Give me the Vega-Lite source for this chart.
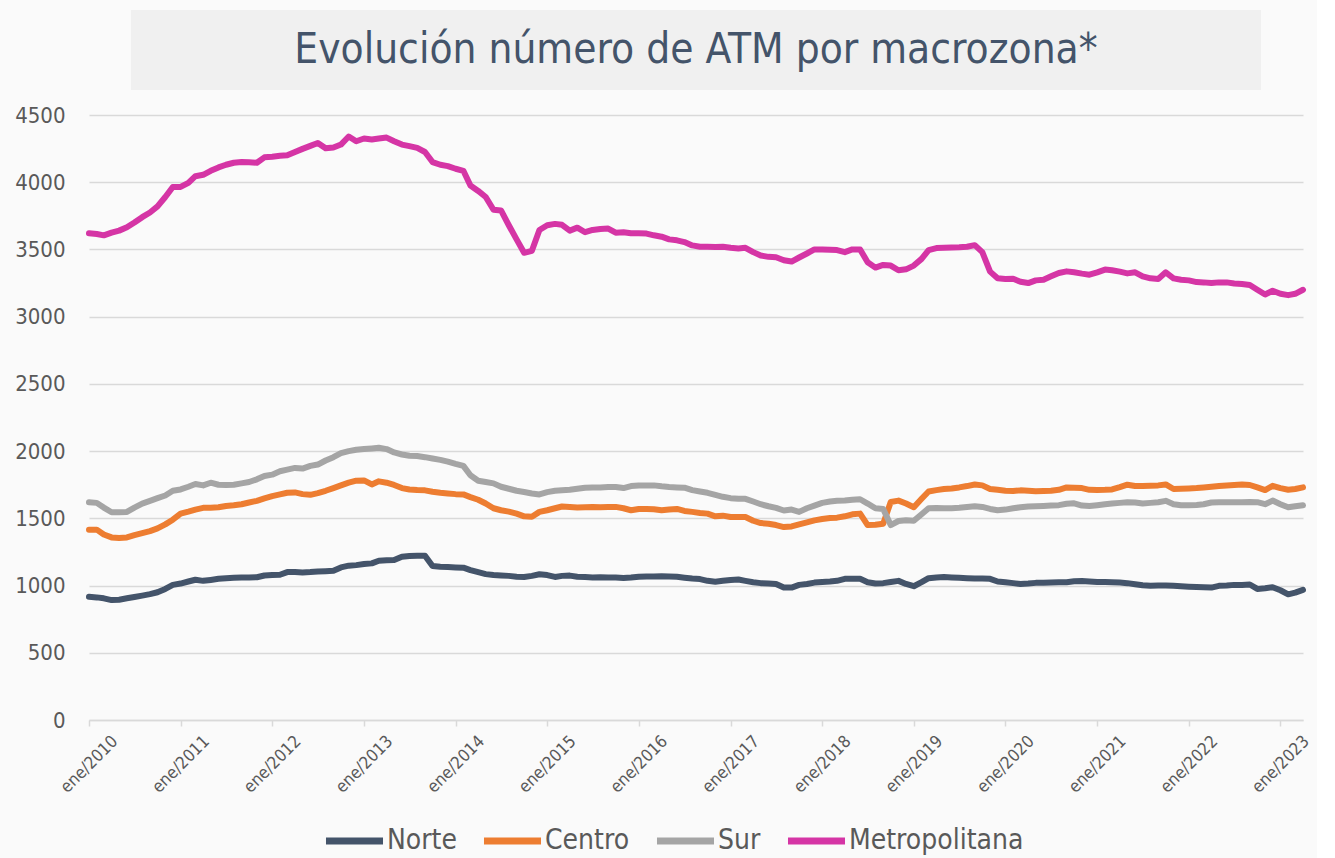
{
  "$schema": "https://vega.github.io/schema/vega-lite/v6.json",
  "background": "#fafafa",
  "padding": {"left": 14, "top": 10, "right": 5, "bottom": 0},
  "config": {
    "font": "DejaVu Sans Condensed, DejaVu Sans, sans-serif",
    "view": {"stroke": null}
  },
  "datasets": {
    "atm": [
      {"mes":"2010-01-01","Norte":916,"Centro":1416,"Sur":1620,"Metropolitana":3620},
      {"mes":"2010-02-01","Norte":912,"Centro":1416,"Sur":1615,"Metropolitana":3615},
      {"mes":"2010-03-01","Norte":905,"Centro":1380,"Sur":1580,"Metropolitana":3605},
      {"mes":"2010-04-01","Norte":892,"Centro":1358,"Sur":1545,"Metropolitana":3625},
      {"mes":"2010-05-01","Norte":895,"Centro":1354,"Sur":1545,"Metropolitana":3640},
      {"mes":"2010-06-01","Norte":905,"Centro":1358,"Sur":1548,"Metropolitana":3665},
      {"mes":"2010-07-01","Norte":915,"Centro":1375,"Sur":1580,"Metropolitana":3700},
      {"mes":"2010-08-01","Norte":925,"Centro":1390,"Sur":1610,"Metropolitana":3740},
      {"mes":"2010-09-01","Norte":936,"Centro":1405,"Sur":1630,"Metropolitana":3775},
      {"mes":"2010-10-01","Norte":950,"Centro":1425,"Sur":1650,"Metropolitana":3820},
      {"mes":"2010-11-01","Norte":975,"Centro":1455,"Sur":1670,"Metropolitana":3890},
      {"mes":"2010-12-01","Norte":1005,"Centro":1490,"Sur":1705,"Metropolitana":3965},
      {"mes":"2011-01-01","Norte":1015,"Centro":1535,"Sur":1715,"Metropolitana":3965},
      {"mes":"2011-02-01","Norte":1030,"Centro":1550,"Sur":1735,"Metropolitana":3995},
      {"mes":"2011-03-01","Norte":1043,"Centro":1565,"Sur":1755,"Metropolitana":4045},
      {"mes":"2011-04-01","Norte":1035,"Centro":1578,"Sur":1745,"Metropolitana":4055},
      {"mes":"2011-05-01","Norte":1042,"Centro":1579,"Sur":1765,"Metropolitana":4085},
      {"mes":"2011-06-01","Norte":1050,"Centro":1582,"Sur":1750,"Metropolitana":4110},
      {"mes":"2011-07-01","Norte":1055,"Centro":1592,"Sur":1748,"Metropolitana":4130},
      {"mes":"2011-08-01","Norte":1058,"Centro":1597,"Sur":1750,"Metropolitana":4145},
      {"mes":"2011-09-01","Norte":1060,"Centro":1605,"Sur":1760,"Metropolitana":4150},
      {"mes":"2011-10-01","Norte":1060,"Centro":1618,"Sur":1770,"Metropolitana":4148},
      {"mes":"2011-11-01","Norte":1062,"Centro":1630,"Sur":1790,"Metropolitana":4145},
      {"mes":"2011-12-01","Norte":1075,"Centro":1648,"Sur":1815,"Metropolitana":4185},
      {"mes":"2012-01-01","Norte":1078,"Centro":1665,"Sur":1825,"Metropolitana":4190},
      {"mes":"2012-02-01","Norte":1080,"Centro":1678,"Sur":1850,"Metropolitana":4197},
      {"mes":"2012-03-01","Norte":1100,"Centro":1690,"Sur":1862,"Metropolitana":4200},
      {"mes":"2012-04-01","Norte":1100,"Centro":1693,"Sur":1875,"Metropolitana":4225},
      {"mes":"2012-05-01","Norte":1097,"Centro":1680,"Sur":1870,"Metropolitana":4248},
      {"mes":"2012-06-01","Norte":1100,"Centro":1675,"Sur":1890,"Metropolitana":4270},
      {"mes":"2012-07-01","Norte":1105,"Centro":1688,"Sur":1900,"Metropolitana":4292},
      {"mes":"2012-08-01","Norte":1107,"Centro":1705,"Sur":1930,"Metropolitana":4252},
      {"mes":"2012-09-01","Norte":1110,"Centro":1725,"Sur":1955,"Metropolitana":4258},
      {"mes":"2012-10-01","Norte":1135,"Centro":1745,"Sur":1985,"Metropolitana":4280},
      {"mes":"2012-11-01","Norte":1148,"Centro":1765,"Sur":2000,"Metropolitana":4340},
      {"mes":"2012-12-01","Norte":1152,"Centro":1780,"Sur":2010,"Metropolitana":4305},
      {"mes":"2013-01-01","Norte":1160,"Centro":1782,"Sur":2015,"Metropolitana":4325},
      {"mes":"2013-02-01","Norte":1165,"Centro":1752,"Sur":2020,"Metropolitana":4318},
      {"mes":"2013-03-01","Norte":1185,"Centro":1775,"Sur":2025,"Metropolitana":4325},
      {"mes":"2013-04-01","Norte":1188,"Centro":1765,"Sur":2015,"Metropolitana":4332},
      {"mes":"2013-05-01","Norte":1190,"Centro":1748,"Sur":1990,"Metropolitana":4305},
      {"mes":"2013-06-01","Norte":1215,"Centro":1725,"Sur":1975,"Metropolitana":4280},
      {"mes":"2013-07-01","Norte":1220,"Centro":1715,"Sur":1965,"Metropolitana":4268},
      {"mes":"2013-08-01","Norte":1222,"Centro":1710,"Sur":1963,"Metropolitana":4255},
      {"mes":"2013-09-01","Norte":1222,"Centro":1708,"Sur":1955,"Metropolitana":4225},
      {"mes":"2013-10-01","Norte":1145,"Centro":1698,"Sur":1945,"Metropolitana":4150},
      {"mes":"2013-11-01","Norte":1140,"Centro":1690,"Sur":1935,"Metropolitana":4130},
      {"mes":"2013-12-01","Norte":1138,"Centro":1685,"Sur":1922,"Metropolitana":4120},
      {"mes":"2014-01-01","Norte":1135,"Centro":1680,"Sur":1905,"Metropolitana":4100},
      {"mes":"2014-02-01","Norte":1133,"Centro":1678,"Sur":1890,"Metropolitana":4085},
      {"mes":"2014-03-01","Norte":1115,"Centro":1658,"Sur":1820,"Metropolitana":3975},
      {"mes":"2014-04-01","Norte":1100,"Centro":1638,"Sur":1780,"Metropolitana":3935},
      {"mes":"2014-05-01","Norte":1085,"Centro":1610,"Sur":1770,"Metropolitana":3890},
      {"mes":"2014-06-01","Norte":1078,"Centro":1575,"Sur":1760,"Metropolitana":3795},
      {"mes":"2014-07-01","Norte":1075,"Centro":1560,"Sur":1735,"Metropolitana":3790},
      {"mes":"2014-08-01","Norte":1072,"Centro":1550,"Sur":1720,"Metropolitana":3680},
      {"mes":"2014-09-01","Norte":1066,"Centro":1535,"Sur":1705,"Metropolitana":3575},
      {"mes":"2014-10-01","Norte":1064,"Centro":1515,"Sur":1696,"Metropolitana":3475},
      {"mes":"2014-11-01","Norte":1072,"Centro":1512,"Sur":1685,"Metropolitana":3490},
      {"mes":"2014-12-01","Norte":1084,"Centro":1548,"Sur":1678,"Metropolitana":3645},
      {"mes":"2015-01-01","Norte":1078,"Centro":1560,"Sur":1695,"Metropolitana":3680},
      {"mes":"2015-02-01","Norte":1064,"Centro":1575,"Sur":1705,"Metropolitana":3690},
      {"mes":"2015-03-01","Norte":1072,"Centro":1588,"Sur":1708,"Metropolitana":3683},
      {"mes":"2015-04-01","Norte":1074,"Centro":1585,"Sur":1712,"Metropolitana":3640},
      {"mes":"2015-05-01","Norte":1066,"Centro":1580,"Sur":1720,"Metropolitana":3662},
      {"mes":"2015-06-01","Norte":1063,"Centro":1583,"Sur":1728,"Metropolitana":3628},
      {"mes":"2015-07-01","Norte":1060,"Centro":1585,"Sur":1730,"Metropolitana":3645},
      {"mes":"2015-08-01","Norte":1062,"Centro":1582,"Sur":1730,"Metropolitana":3652},
      {"mes":"2015-09-01","Norte":1060,"Centro":1585,"Sur":1733,"Metropolitana":3655},
      {"mes":"2015-10-01","Norte":1060,"Centro":1585,"Sur":1733,"Metropolitana":3625},
      {"mes":"2015-11-01","Norte":1057,"Centro":1575,"Sur":1725,"Metropolitana":3628},
      {"mes":"2015-12-01","Norte":1060,"Centro":1560,"Sur":1740,"Metropolitana":3620},
      {"mes":"2016-01-01","Norte":1066,"Centro":1570,"Sur":1745,"Metropolitana":3620},
      {"mes":"2016-02-01","Norte":1068,"Centro":1570,"Sur":1745,"Metropolitana":3618},
      {"mes":"2016-03-01","Norte":1068,"Centro":1568,"Sur":1745,"Metropolitana":3605},
      {"mes":"2016-04-01","Norte":1070,"Centro":1560,"Sur":1738,"Metropolitana":3595},
      {"mes":"2016-05-01","Norte":1068,"Centro":1565,"Sur":1733,"Metropolitana":3575},
      {"mes":"2016-06-01","Norte":1065,"Centro":1570,"Sur":1730,"Metropolitana":3568},
      {"mes":"2016-07-01","Norte":1058,"Centro":1555,"Sur":1728,"Metropolitana":3555},
      {"mes":"2016-08-01","Norte":1052,"Centro":1548,"Sur":1710,"Metropolitana":3530},
      {"mes":"2016-09-01","Norte":1048,"Centro":1540,"Sur":1700,"Metropolitana":3520},
      {"mes":"2016-10-01","Norte":1035,"Centro":1535,"Sur":1690,"Metropolitana":3520},
      {"mes":"2016-11-01","Norte":1028,"Centro":1515,"Sur":1675,"Metropolitana":3518},
      {"mes":"2016-12-01","Norte":1035,"Centro":1520,"Sur":1660,"Metropolitana":3520},
      {"mes":"2017-01-01","Norte":1042,"Centro":1510,"Sur":1650,"Metropolitana":3512},
      {"mes":"2017-02-01","Norte":1045,"Centro":1510,"Sur":1645,"Metropolitana":3507},
      {"mes":"2017-03-01","Norte":1035,"Centro":1510,"Sur":1645,"Metropolitana":3512},
      {"mes":"2017-04-01","Norte":1025,"Centro":1482,"Sur":1625,"Metropolitana":3480},
      {"mes":"2017-05-01","Norte":1018,"Centro":1465,"Sur":1605,"Metropolitana":3455},
      {"mes":"2017-06-01","Norte":1015,"Centro":1460,"Sur":1590,"Metropolitana":3445},
      {"mes":"2017-07-01","Norte":1012,"Centro":1450,"Sur":1578,"Metropolitana":3442},
      {"mes":"2017-08-01","Norte":985,"Centro":1435,"Sur":1558,"Metropolitana":3420},
      {"mes":"2017-09-01","Norte":985,"Centro":1440,"Sur":1565,"Metropolitana":3410},
      {"mes":"2017-10-01","Norte":1005,"Centro":1455,"Sur":1548,"Metropolitana":3440},
      {"mes":"2017-11-01","Norte":1012,"Centro":1470,"Sur":1575,"Metropolitana":3470},
      {"mes":"2017-12-01","Norte":1022,"Centro":1485,"Sur":1595,"Metropolitana":3500},
      {"mes":"2018-01-01","Norte":1027,"Centro":1495,"Sur":1615,"Metropolitana":3500},
      {"mes":"2018-02-01","Norte":1030,"Centro":1502,"Sur":1625,"Metropolitana":3497},
      {"mes":"2018-03-01","Norte":1035,"Centro":1505,"Sur":1630,"Metropolitana":3495},
      {"mes":"2018-04-01","Norte":1050,"Centro":1515,"Sur":1632,"Metropolitana":3480},
      {"mes":"2018-05-01","Norte":1050,"Centro":1530,"Sur":1638,"Metropolitana":3500},
      {"mes":"2018-06-01","Norte":1050,"Centro":1535,"Sur":1642,"Metropolitana":3500},
      {"mes":"2018-07-01","Norte":1025,"Centro":1450,"Sur":1610,"Metropolitana":3405},
      {"mes":"2018-08-01","Norte":1015,"Centro":1452,"Sur":1575,"Metropolitana":3365},
      {"mes":"2018-09-01","Norte":1018,"Centro":1460,"Sur":1570,"Metropolitana":3385},
      {"mes":"2018-10-01","Norte":1027,"Centro":1621,"Sur":1450,"Metropolitana":3380},
      {"mes":"2018-11-01","Norte":1035,"Centro":1632,"Sur":1480,"Metropolitana":3345},
      {"mes":"2018-12-01","Norte":1012,"Centro":1610,"Sur":1485,"Metropolitana":3352},
      {"mes":"2019-01-01","Norte":995,"Centro":1582,"Sur":1482,"Metropolitana":3380},
      {"mes":"2019-02-01","Norte":1025,"Centro":1645,"Sur":1530,"Metropolitana":3430},
      {"mes":"2019-03-01","Norte":1055,"Centro":1700,"Sur":1575,"Metropolitana":3495},
      {"mes":"2019-04-01","Norte":1060,"Centro":1710,"Sur":1577,"Metropolitana":3510},
      {"mes":"2019-05-01","Norte":1063,"Centro":1718,"Sur":1575,"Metropolitana":3512},
      {"mes":"2019-06-01","Norte":1060,"Centro":1722,"Sur":1575,"Metropolitana":3515},
      {"mes":"2019-07-01","Norte":1058,"Centro":1730,"Sur":1578,"Metropolitana":3516},
      {"mes":"2019-08-01","Norte":1055,"Centro":1740,"Sur":1585,"Metropolitana":3520},
      {"mes":"2019-09-01","Norte":1053,"Centro":1752,"Sur":1590,"Metropolitana":3532},
      {"mes":"2019-10-01","Norte":1052,"Centro":1745,"Sur":1585,"Metropolitana":3480},
      {"mes":"2019-11-01","Norte":1050,"Centro":1718,"Sur":1570,"Metropolitana":3335},
      {"mes":"2019-12-01","Norte":1030,"Centro":1712,"Sur":1560,"Metropolitana":3285},
      {"mes":"2020-01-01","Norte":1025,"Centro":1705,"Sur":1565,"Metropolitana":3280},
      {"mes":"2020-02-01","Norte":1018,"Centro":1703,"Sur":1575,"Metropolitana":3282},
      {"mes":"2020-03-01","Norte":1012,"Centro":1708,"Sur":1582,"Metropolitana":3260},
      {"mes":"2020-04-01","Norte":1015,"Centro":1705,"Sur":1588,"Metropolitana":3250},
      {"mes":"2020-05-01","Norte":1020,"Centro":1701,"Sur":1590,"Metropolitana":3270},
      {"mes":"2020-06-01","Norte":1020,"Centro":1703,"Sur":1592,"Metropolitana":3275},
      {"mes":"2020-07-01","Norte":1022,"Centro":1705,"Sur":1595,"Metropolitana":3300},
      {"mes":"2020-08-01","Norte":1025,"Centro":1712,"Sur":1598,"Metropolitana":3325},
      {"mes":"2020-09-01","Norte":1025,"Centro":1730,"Sur":1608,"Metropolitana":3337},
      {"mes":"2020-10-01","Norte":1032,"Centro":1728,"Sur":1612,"Metropolitana":3330},
      {"mes":"2020-11-01","Norte":1033,"Centro":1725,"Sur":1595,"Metropolitana":3320},
      {"mes":"2020-12-01","Norte":1030,"Centro":1712,"Sur":1592,"Metropolitana":3312},
      {"mes":"2021-01-01","Norte":1027,"Centro":1710,"Sur":1598,"Metropolitana":3330},
      {"mes":"2021-02-01","Norte":1027,"Centro":1712,"Sur":1605,"Metropolitana":3350},
      {"mes":"2021-03-01","Norte":1025,"Centro":1715,"Sur":1610,"Metropolitana":3345},
      {"mes":"2021-04-01","Norte":1022,"Centro":1732,"Sur":1615,"Metropolitana":3335},
      {"mes":"2021-05-01","Norte":1018,"Centro":1750,"Sur":1620,"Metropolitana":3322},
      {"mes":"2021-06-01","Norte":1010,"Centro":1740,"Sur":1618,"Metropolitana":3330},
      {"mes":"2021-07-01","Norte":1002,"Centro":1740,"Sur":1610,"Metropolitana":3300},
      {"mes":"2021-08-01","Norte":998,"Centro":1742,"Sur":1615,"Metropolitana":3285},
      {"mes":"2021-09-01","Norte":1000,"Centro":1745,"Sur":1620,"Metropolitana":3280},
      {"mes":"2021-10-01","Norte":1000,"Centro":1752,"Sur":1630,"Metropolitana":3330},
      {"mes":"2021-11-01","Norte":998,"Centro":1718,"Sur":1605,"Metropolitana":3285},
      {"mes":"2021-12-01","Norte":995,"Centro":1720,"Sur":1598,"Metropolitana":3275},
      {"mes":"2022-01-01","Norte":992,"Centro":1722,"Sur":1598,"Metropolitana":3270},
      {"mes":"2022-02-01","Norte":990,"Centro":1725,"Sur":1600,"Metropolitana":3257},
      {"mes":"2022-03-01","Norte":988,"Centro":1730,"Sur":1605,"Metropolitana":3255},
      {"mes":"2022-04-01","Norte":985,"Centro":1735,"Sur":1618,"Metropolitana":3250},
      {"mes":"2022-05-01","Norte":998,"Centro":1740,"Sur":1620,"Metropolitana":3255},
      {"mes":"2022-06-01","Norte":1000,"Centro":1745,"Sur":1620,"Metropolitana":3255},
      {"mes":"2022-07-01","Norte":1005,"Centro":1748,"Sur":1620,"Metropolitana":3247},
      {"mes":"2022-08-01","Norte":1005,"Centro":1752,"Sur":1620,"Metropolitana":3243},
      {"mes":"2022-09-01","Norte":1008,"Centro":1748,"Sur":1622,"Metropolitana":3235},
      {"mes":"2022-10-01","Norte":975,"Centro":1730,"Sur":1620,"Metropolitana":3200},
      {"mes":"2022-11-01","Norte":980,"Centro":1710,"Sur":1605,"Metropolitana":3165},
      {"mes":"2022-12-01","Norte":988,"Centro":1742,"Sur":1632,"Metropolitana":3193},
      {"mes":"2023-01-01","Norte":965,"Centro":1725,"Sur":1605,"Metropolitana":3170},
      {"mes":"2023-02-01","Norte":935,"Centro":1713,"Sur":1582,"Metropolitana":3160},
      {"mes":"2023-03-01","Norte":948,"Centro":1718,"Sur":1590,"Metropolitana":3170},
      {"mes":"2023-04-01","Norte":968,"Centro":1730,"Sur":1597,"Metropolitana":3200}
    ]
  },
  "vconcat": [
    {
      "width": 1130,
      "height": 80,
      "view": {"fill": "#f0f0f0", "stroke": null},
      "data": {"values": [{"titulo": "Evolución número de ATM por macrozona*"}]},
      "mark": {"type": "text", "fontSize": 42, "color": "#44546a", "align": "center", "baseline": "middle"},
      "encoding": {"text": {"field": "titulo"}}
    },
    {
      "width": 1214,
      "height": 605,
      "data": {"name": "atm"},
      "transform": [{"fold": ["Norte", "Centro", "Sur", "Metropolitana"], "as": ["zona", "atm"]}],
      "mark": {"type": "line", "strokeWidth": 6, "strokeCap": "round", "strokeJoin": "round"},
      "encoding": {
        "x": {
          "field": "mes",
          "type": "temporal",
          "scale": {"type": "utc", "domain": [{"year": 2010, "month": 1, "date": 1, "utc": true}, {"year": 2023, "month": 4, "date": 1, "utc": true}], "nice": false},
          "axis": {
            "title": null,
            "grid": false,
            "tickCount": {"interval": "year", "step": 1},
            "labelExpr": "'ene/' + utcFormat(datum.value, '%Y')",
            "labelAngle": -45,
            "labelAlign": "center",
            "labelBaseline": "middle",
            "labelFontSize": 17,
            "labelColor": "#595959",
            "labelPadding": 38,
            "labelFlush": false,
            "labelOverlap": false,
            "domainColor": "#d9d9d9",
            "domainWidth": 1.5,
            "tickColor": "#d9d9d9",
            "tickWidth": 1.5,
            "tickSize": 6
          }
        },
        "y": {
          "field": "atm",
          "type": "quantitative",
          "scale": {"domain": [0, 4500], "nice": false},
          "axis": {
            "title": null,
            "values": [0, 500, 1000, 1500, 2000, 2500, 3000, 3500, 4000, 4500],
            "format": "d",
            "domain": false,
            "ticks": false,
            "tickSize": 0,
            "labelPadding": 24,
            "labelFontSize": 22,
            "labelColor": "#595959",
            "gridColor": "#d9d9d9",
            "gridWidth": 1.5
          }
        },
        "color": {
          "field": "zona",
          "type": "nominal",
          "scale": {"domain": ["Norte", "Centro", "Sur", "Metropolitana"], "range": ["#44546a", "#ed7d31", "#a5a5a5", "#d535a5"]},
          "legend": {
            "title": null,
            "orient": "none",
            "direction": "horizontal",
            "legendX": 233,
            "legendY": 814,
            "clipHeight": 34,
            "symbolType": "stroke",
            "symbolSize": 3250,
            "symbolStrokeWidth": 7,
            "labelFontSize": 28,
            "labelLimit": 400,
            "labelColor": "#595959",
            "labelOffset": 0,
            "columnPadding": 23
          }
        }
      }
    }
  ],
  "spacing": 25,
  "bounds": "flush",
  "center": true
}
